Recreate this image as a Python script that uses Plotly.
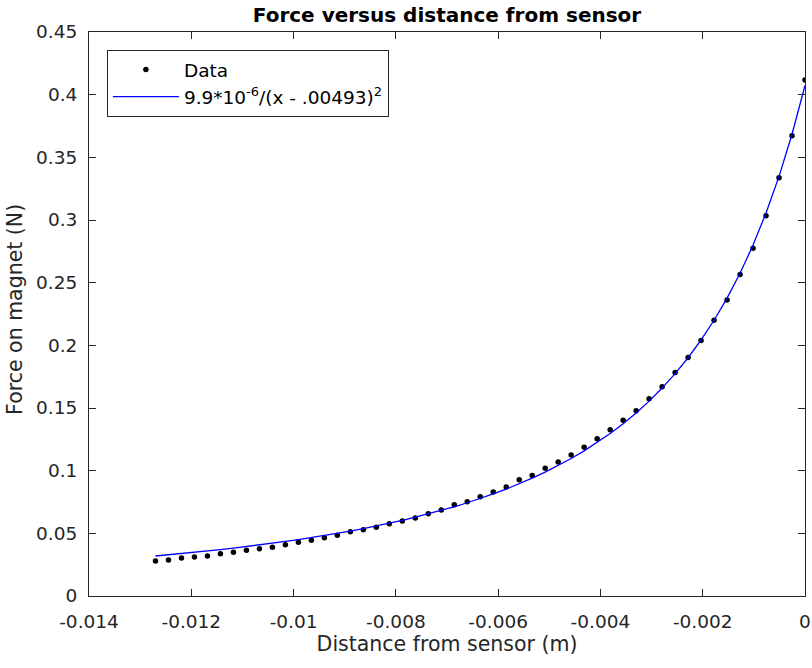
import plotly.graph_objects as go

# distance from sensor (m)
distance = [
    -0.012700, -0.012446, -0.012192, -0.011938, -0.011684, -0.011430, -0.011176,
    -0.010922, -0.010668, -0.010414, -0.010160, -0.009906, -0.009652, -0.009398,
    -0.009144, -0.008890, -0.008636, -0.008382, -0.008128, -0.007874, -0.007620,
    -0.007366, -0.007112, -0.006858, -0.006604, -0.006350, -0.006096, -0.005842,
    -0.005588, -0.005334, -0.005080, -0.004826, -0.004572, -0.004318, -0.004064,
    -0.003810, -0.003556, -0.003302, -0.003048, -0.002794, -0.002540, -0.002286,
    -0.002032, -0.001778, -0.001524, -0.001270, -0.001016, -0.000762, -0.000508,
    -0.000254, 0.000000,
]

# measured force (N)
force_data = [
    0.0279, 0.0287, 0.0303, 0.0311, 0.0319, 0.0338, 0.0349, 0.0365, 0.0377, 0.0389,
    0.0409, 0.0428, 0.0444, 0.0465, 0.0484, 0.0513, 0.0529, 0.0548, 0.0577, 0.0598,
    0.0622, 0.0657, 0.0686, 0.0728, 0.0752, 0.0792, 0.0830, 0.0870, 0.0928, 0.0961,
    0.1020, 0.1069, 0.1125, 0.1186, 0.1255, 0.1326, 0.1403, 0.1479, 0.1573, 0.1669,
    0.1783, 0.1902, 0.2039, 0.2201, 0.2361, 0.2566, 0.2774, 0.3034, 0.3338, 0.3673,
    0.4117,
]

# fitted curve (N), read at the same distances
force_fit = [
    0.0319, 0.0328, 0.0338, 0.0348, 0.0359, 0.0370, 0.0382, 0.0394, 0.0407, 0.0421,
    0.0435, 0.0450, 0.0466, 0.0482, 0.0500, 0.0518, 0.0538, 0.0559, 0.0581, 0.0604,
    0.0629, 0.0655, 0.0683, 0.0712, 0.0744, 0.0778, 0.0814, 0.0853, 0.0895, 0.0940,
    0.0988, 0.1040, 0.1097, 0.1158, 0.1224, 0.1296, 0.1375, 0.1461, 0.1555, 0.1659,
    0.1774, 0.1901, 0.2043, 0.2200, 0.2377, 0.2575, 0.2800, 0.3056, 0.3348, 0.3684,
    0.4073,
]

x_ticks = [-0.014, -0.012, -0.010, -0.008, -0.006, -0.004, -0.002, 0.0]
x_tick_labels = ["-0.014", "-0.012", "-0.01", "-0.008", "-0.006", "-0.004", "-0.002", "0"]
y_ticks = [0, 0.05, 0.10, 0.15, 0.20, 0.25, 0.30, 0.35, 0.40, 0.45]
y_tick_labels = ["0", "0.05", "0.1", "0.15", "0.2", "0.25", "0.3", "0.35", "0.4", "0.45"]

FONT = "DejaVu Sans"
AX = "#262626"

fig = go.Figure()
fig.add_trace(go.Scatter(
    x=distance, y=force_data, mode="markers", name="Data",
    marker=dict(color="black", size=5.5, symbol="circle"),
))
fig.add_trace(go.Scatter(
    x=distance, y=force_fit, mode="lines",
    name="9.9*10<sup>-6</sup>/(x - .00493)<sup>2</sup>",
    line=dict(color="#0000ff", width=1.3),
))

axis_common = dict(
    showgrid=False, zeroline=False, showline=True, linecolor=AX, linewidth=1,
    mirror="ticks", ticks="inside", ticklen=7, tickcolor=AX, tickwidth=1,
    tickfont=dict(family=FONT, size=18.5, color=AX),
)

fig.update_layout(
    width=812, height=668,
    paper_bgcolor="white", plot_bgcolor="white",
    margin=dict(l=89, r=7, t=32, b=72, autoexpand=False),
    showlegend=True,
    title=dict(text="<b>Force versus distance from sensor</b>",
               font=dict(family=FONT, size=20, color="black"),
               x=0.5, xref="paper", y=0.977, yref="container", yanchor="middle",
               xanchor="center"),
    xaxis=dict(range=[-0.014, 0], tickvals=x_ticks, ticktext=x_tick_labels,
               ticklabelstandoff=9,
               title=dict(text="Distance from sensor (m)", standoff=2,
                          font=dict(family=FONT, size=20.5, color=AX)),
               **axis_common),
    yaxis=dict(range=[0, 0.45], tickvals=y_ticks, ticktext=y_tick_labels,
               ticklabelstandoff=7,
               **axis_common),
    legend=dict(x=0.025, y=0.968, xanchor="left", yanchor="top",
                bgcolor="white", bordercolor=AX, borderwidth=1,
                font=dict(family=FONT, size=18.5, color="black"),
                itemwidth=66, tracegroupgap=2),
    annotations=[dict(
        text="Force on magnet (N)", textangle=-90, showarrow=False,
        xref="paper", yref="paper", x=-0.1034, y=0.509,
        xanchor="center", yanchor="middle",
        font=dict(family=FONT, size=20.5, color=AX),
    )],
)

fig.write_html(
    "out.html",
    config={"displayModeBar": False},
    post_script="document.body.style.margin='0';"
                "document.documentElement.style.overflow='hidden';"
                "document.body.style.overflow='hidden';",
)
